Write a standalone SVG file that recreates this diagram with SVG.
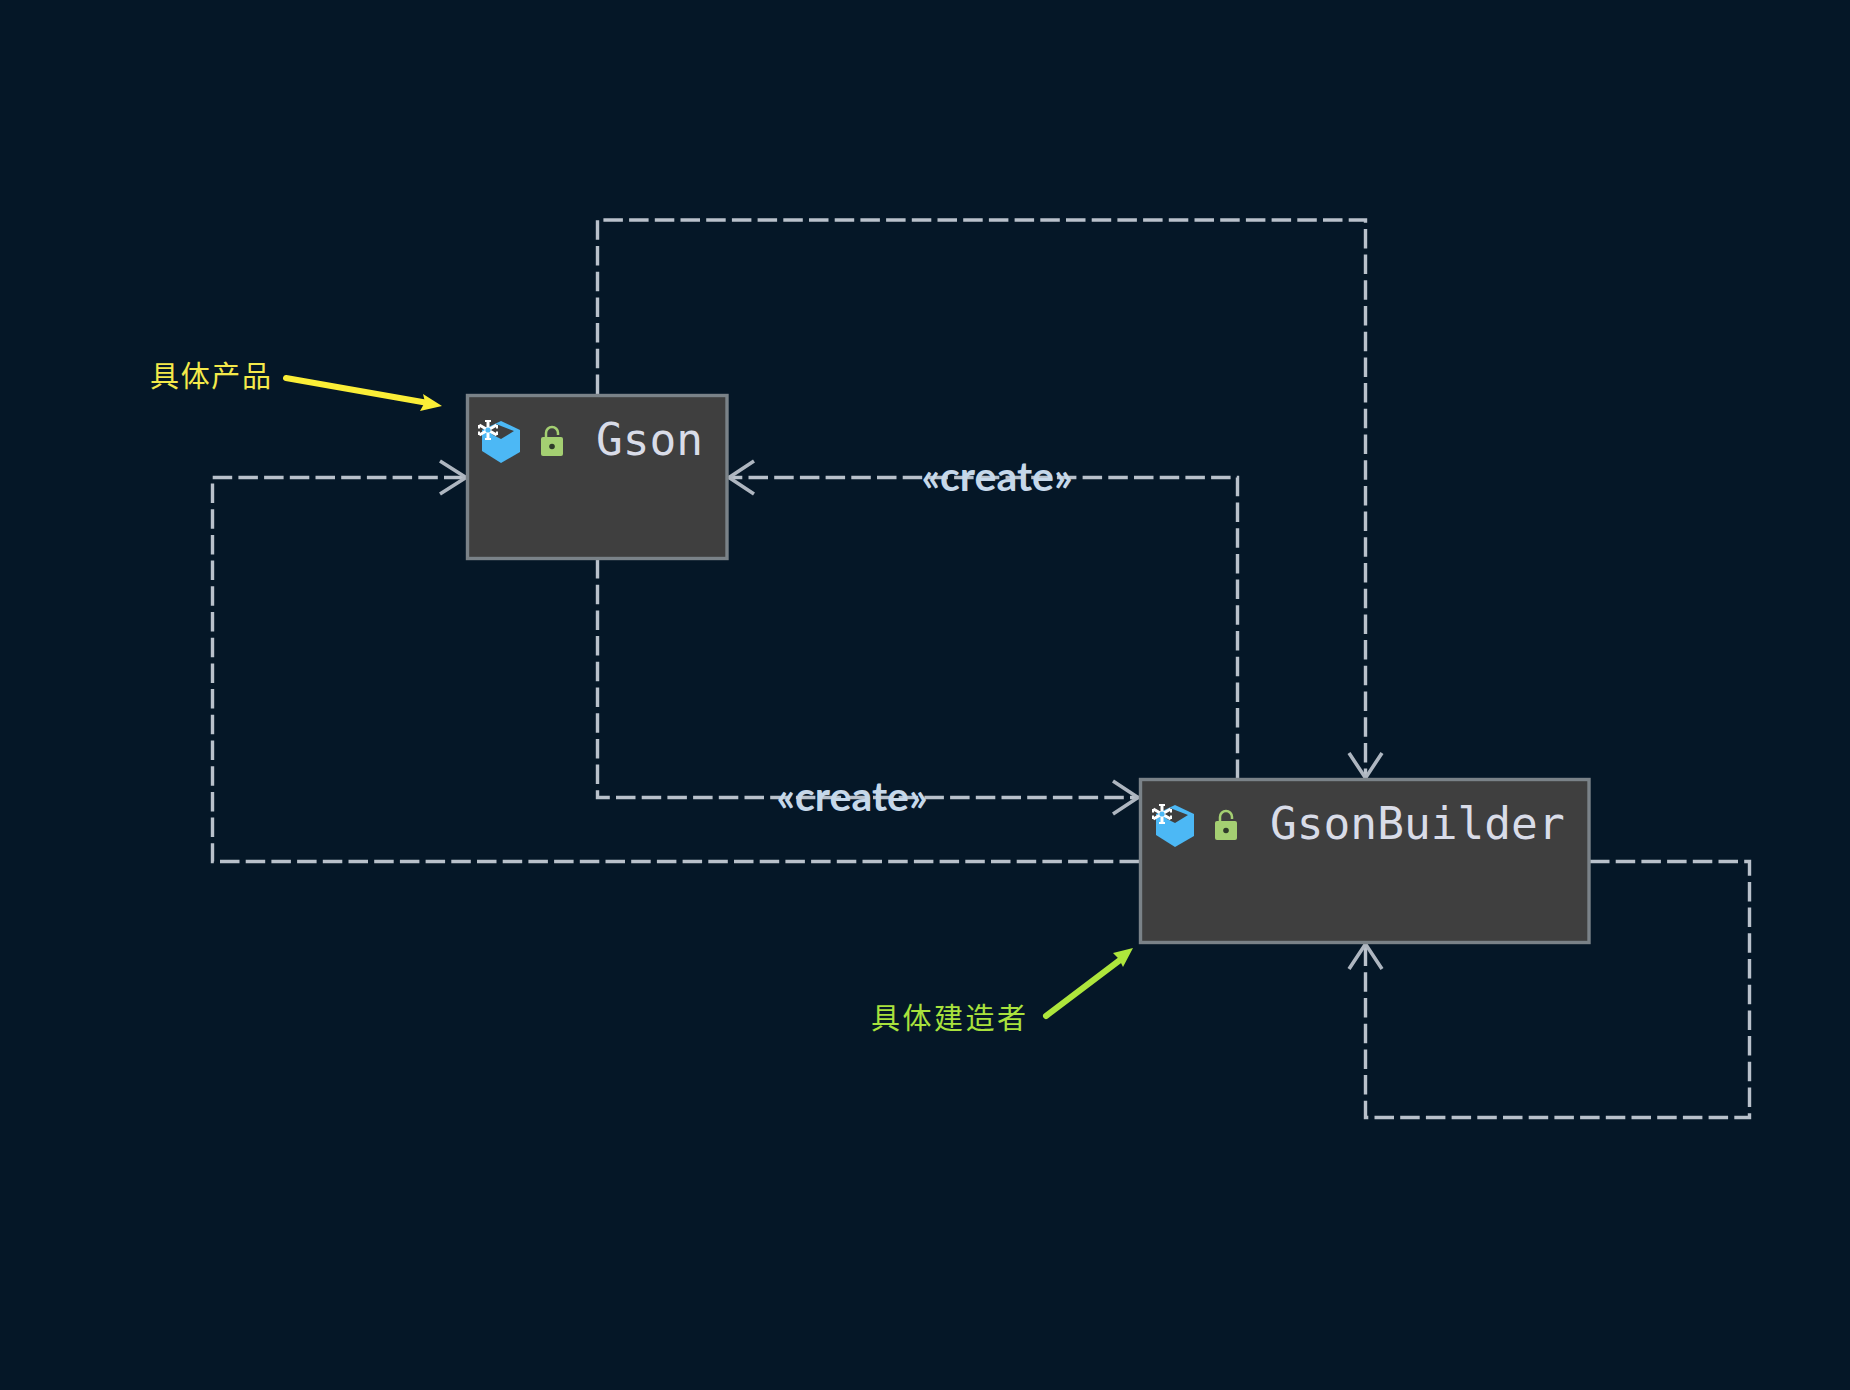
<svg xmlns="http://www.w3.org/2000/svg" width="1850" height="1390" viewBox="0 0 1850 1390">
<defs>
<style>
.c{fill:none;stroke:#b9c1cb;stroke-width:3.400;stroke-dasharray:19.5 6.2}
.h{fill:none;stroke:#aeb6c0;stroke-width:3.600}
.box{fill:#3f3f3f;stroke:#7a8288;stroke-width:3.400}
.name{font-family:"DejaVu Sans Mono","Liberation Mono",monospace;font-size:44.500px;fill:#d9dce8}
.st{font-family:"Lato","Noto Sans",sans-serif;font-size:41px;font-weight:700;fill:#c6d8ea}
.cjk{font-family:"Noto Sans CJK SC",sans-serif;font-size:29px;font-weight:400}
</style>
<g id="classicon">
<path d="M0 -17 L19 -8 L19 14 L0 25 L-19 13 L-19 -8 Z" fill="#4cb8f5"/>
<path d="M-12 -9 L-5 -14 L13 -7 L0 1 L-8 -3 Z" fill="#3f3f3f"/>
<g stroke="#fff" stroke-width="3" transform="translate(-13,-8)"><path d="M0 -10V10M-8.700 -5L8.700 5M8.700 -5L-8.700 5"/><path stroke-width="2" d="M-3 -9H3M-3 9H3M-9 -1.500V-5M9 -1.500V-5M-9 1.500V5M9 1.500V5"/></g>
<circle cx="-13" cy="-8" r="2.600" fill="#4cb8f5"/>
</g>
<g id="lock">
<path d="M-6 -7V-11A6 6 0 0 1 6 -11V-9" fill="none" stroke="#a4cf72" stroke-width="2.500"/>
<rect x="-11" y="-7" width="22" height="19" rx="2" fill="#a4cf72"/>
<circle cx="0" cy="2.500" r="2.800" fill="#2f3a2a"/>
</g>
</defs>
<rect width="1850" height="1390" fill="#051727"/>
<g id="connectors">
<path class="c" d="M597.500 394V220H1365.500V779"/>
<path class="h" d="M1349 753L1365.500 778L1382 753"/>
<path class="c" d="M1237.500 779V477.500H728"/>
<path class="h" d="M754 461L729 477.500L754 494"/>
<path class="c" d="M597.500 559V797.500H1139"/>
<path class="h" d="M1113 781L1138 797.500L1113 814"/>
<path class="c" d="M1139 861.500H212.500V477.500H466"/>
<path class="h" d="M440 461L466 477.500L440 494"/>
<path class="c" d="M1590 861.500H1749.500V1117.500H1365.500V943"/>
<path class="h" d="M1349 969L1365.500 944L1382 969"/>
<text class="st" x="997" y="491" text-anchor="middle">«create»</text>
<text class="st" x="852" y="811" text-anchor="middle">«create»</text>
</g>
<g id="gson">
<rect class="box" x="467.500" y="395.500" width="259.500" height="163"/>
<use href="#classicon" x="501" y="438"/>
<use href="#lock" x="552" y="444"/>
<text class="name" x="596" y="455">Gson</text>
</g>
<g id="gsonbuilder">
<rect class="box" x="1140.500" y="779.500" width="448.500" height="163"/>
<use href="#classicon" x="1175" y="822"/>
<use href="#lock" x="1226" y="828"/>
<text class="name" x="1270" y="839">GsonBuilder</text>
</g>
<g id="note-product">
<text class="cjk" x="150" y="387" fill="#f4e94a" textLength="121">具体产品</text>
<path d="M286 378L428 403" fill="none" stroke="#fbee37" stroke-width="6" stroke-linecap="round"/>
<path d="M442 406L420 411L425 402L423 394Z" fill="#fbee37"/>
</g>
<g id="note-builder">
<text class="cjk" x="871" y="1029" fill="#a9e23d" textLength="155">具体建造者</text>
<path d="M1046 1016L1124 957" fill="none" stroke="#aee63c" stroke-width="6" stroke-linecap="round"/>
<path d="M1133 948L1123 967L1119 959L1113 953Z" fill="#aee63c"/>
</g>
</svg>
